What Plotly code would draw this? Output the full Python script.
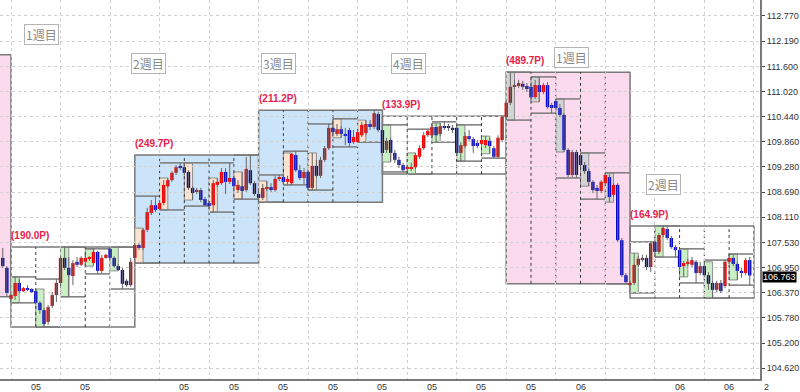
import plotly.graph_objects as go

# ---------------- data (4-hour bars, (open, high, low, close)) ----------------
prev_week_bars = [
    (107.17, 107.40, 106.94, 106.98),
    (106.94, 106.98, 106.27, 106.36),
]
prev_week_range = (111.87, 106.27)   # high, low of the week before week 1

week1 = [
    (106.22, 106.34, 106.13, 106.31), (106.29, 106.73, 106.20, 106.59), (106.59, 106.68, 106.36, 106.40),
    (106.40, 106.50, 106.38, 106.47), (106.47, 106.54, 106.40, 106.43), (106.45, 106.47, 106.36, 106.38),
    (106.40, 106.45, 106.10, 106.13), (106.13, 106.17, 105.87, 105.96), (105.96, 106.01, 105.57, 105.64),
    (105.69, 106.08, 105.62, 106.03), (106.06, 106.38, 106.01, 106.31), (106.31, 106.68, 106.15, 106.59),
    (106.59, 107.21, 106.52, 107.17), (107.17, 107.42, 106.89, 106.94), (106.94, 107.19, 106.27, 106.77),
    (106.75, 107.12, 106.54, 107.05), (107.08, 107.19, 106.96, 107.01), (107.01, 107.21, 106.98, 107.17),
    (107.08, 107.24, 106.98, 107.17), (107.15, 107.21, 107.10, 107.17), (107.05, 107.38, 107.01, 107.31),
    (107.31, 107.33, 106.80, 106.87), (106.87, 107.24, 106.82, 107.17), (107.17, 107.26, 107.15, 107.24),
    (107.38, 107.42, 107.12, 107.17), (107.17, 107.21, 106.94, 106.98), (106.98, 107.03, 106.87, 106.89),
    (106.89, 106.94, 106.45, 106.57), (106.64, 106.68, 106.50, 106.54), (106.54, 107.17, 106.50, 107.08),
]
week2 = [
    (107.17, 107.51, 107.05, 107.47), (107.47, 107.51, 107.35, 107.40), (107.40, 107.86, 107.35, 107.82),
    (107.82, 108.33, 107.77, 108.23), (108.21, 108.51, 108.16, 108.39), (108.39, 108.60, 108.23, 108.28),
    (108.30, 108.51, 108.28, 108.44), (108.44, 108.97, 108.39, 108.86), (108.83, 109.02, 108.79, 108.97),
    (108.97, 109.18, 108.93, 109.14), (109.14, 109.32, 109.09, 109.27), (109.30, 109.37, 109.20, 109.25),
    (109.27, 109.37, 109.09, 109.14), (109.16, 109.20, 108.74, 108.79), (108.79, 108.83, 108.51, 108.67),
    (108.70, 108.79, 108.65, 108.74), (108.74, 108.79, 108.46, 108.51), (108.53, 108.58, 108.37, 108.39),
    (108.44, 108.49, 108.33, 108.37), (108.39, 108.97, 108.23, 108.90), (108.86, 109.02, 108.81, 108.93),
    (108.90, 109.25, 108.86, 109.16), (109.16, 109.25, 108.65, 108.93), (108.93, 109.37, 108.88, 109.02),
    (109.02, 109.07, 108.79, 108.83), (108.74, 108.97, 108.67, 108.86), (108.83, 109.16, 108.53, 108.72),
    (108.74, 109.51, 108.70, 109.23), (109.20, 109.55, 108.86, 108.90), (108.90, 108.95, 108.60, 108.65),
]
week3 = [
    (108.65, 108.79, 108.46, 108.56), (108.56, 108.88, 108.51, 108.79), (108.77, 108.95, 108.72, 108.79),
    (108.81, 108.90, 108.70, 108.74), (108.74, 109.07, 108.70, 109.00), (109.00, 109.09, 108.95, 109.04),
    (109.04, 109.11, 108.88, 108.93), (108.93, 109.07, 108.88, 109.00), (108.90, 109.60, 108.86, 109.58),
    (109.55, 109.64, 109.16, 109.20), (109.20, 109.32, 108.97, 109.02), (109.02, 109.25, 108.88, 109.16),
    (109.16, 109.20, 108.74, 108.79), (108.79, 109.60, 108.74, 109.30), (109.30, 109.44, 109.02, 109.07),
    (109.07, 109.51, 109.02, 109.44), (109.44, 109.76, 109.39, 109.71), (109.71, 110.27, 109.67, 110.18),
    (110.18, 110.39, 110.04, 110.08), (110.04, 110.27, 109.99, 110.15), (110.15, 110.22, 109.95, 110.04),
    (110.04, 110.18, 109.78, 110.01), (110.13, 110.18, 109.74, 109.83), (109.85, 110.13, 109.81, 109.97),
    (109.85, 110.13, 109.85, 110.08), (110.01, 110.32, 109.97, 110.25), (110.06, 110.36, 110.01, 110.27),
    (110.27, 110.36, 110.13, 110.20), (110.20, 110.59, 110.15, 110.52), (110.50, 110.55, 110.08, 110.13),
]
week4 = [
    (110.13, 110.25, 109.53, 109.60), (109.67, 109.95, 109.60, 109.88), (109.90, 109.95, 109.39, 109.60),
    (109.60, 109.67, 109.37, 109.44), (109.44, 109.51, 109.25, 109.32), (109.32, 109.37, 109.16, 109.20),
    (109.23, 109.32, 109.11, 109.27), (109.23, 109.37, 109.18, 109.27), (109.27, 109.60, 109.23, 109.55),
    (109.51, 109.78, 109.46, 109.71), (109.71, 110.08, 109.67, 110.01), (110.01, 110.15, 109.97, 110.11),
    (110.01, 110.25, 109.97, 110.20), (110.20, 110.29, 109.85, 110.01), (110.04, 110.29, 109.99, 110.22),
    (110.22, 110.32, 110.13, 110.20), (110.22, 110.27, 110.11, 110.18), (110.18, 110.25, 110.06, 110.13),
    (110.18, 110.25, 109.55, 109.60), (109.60, 109.85, 109.41, 109.78), (109.76, 110.08, 109.71, 109.99),
    (109.99, 110.13, 109.88, 109.92), (109.92, 109.97, 109.60, 109.76), (109.83, 109.90, 109.71, 109.76),
    (109.81, 109.97, 109.76, 109.90), (109.78, 109.99, 109.71, 109.90), (109.88, 109.95, 109.58, 109.76),
    (109.71, 109.76, 109.48, 109.51), (109.51, 110.01, 109.48, 109.95), (109.90, 110.45, 109.85, 110.43),
]
week5 = [
    (110.43, 110.80, 110.36, 110.76), (110.76, 111.47, 110.71, 111.13), (111.13, 111.29, 111.08, 111.17),
    (111.15, 111.29, 111.10, 111.22), (111.20, 111.27, 111.06, 111.13), (111.15, 111.22, 111.01, 111.08),
    (111.13, 111.17, 110.82, 110.89), (110.89, 111.29, 110.85, 111.17), (111.17, 111.36, 110.78, 111.01),
    (111.01, 111.22, 110.96, 111.17), (111.17, 111.24, 110.62, 110.66), (110.71, 110.76, 110.52, 110.64),
    (110.80, 110.85, 110.59, 110.64), (110.64, 110.73, 110.43, 110.48), (110.48, 110.52, 109.62, 109.67),
    (109.67, 109.71, 109.04, 109.09), (109.09, 109.67, 109.04, 109.62), (109.62, 109.67, 109.02, 109.09),
    (109.55, 109.60, 109.27, 109.32), (109.32, 109.39, 109.11, 109.18), (109.18, 109.23, 108.83, 108.93),
    (108.93, 108.97, 108.67, 108.74), (108.79, 108.86, 108.53, 108.72), (108.72, 108.97, 108.67, 108.93),
    (108.90, 109.14, 108.86, 109.09), (109.04, 109.11, 108.46, 108.58), (108.63, 108.90, 108.58, 108.86),
    (108.86, 108.90, 107.54, 107.58), (107.58, 107.63, 106.73, 106.77), (106.77, 106.82, 106.57, 106.61),
]
week6 = [
    (106.54, 106.64, 106.36, 106.59), (106.59, 107.28, 106.54, 107.01), (107.01, 107.21, 106.96, 107.15),
    (107.12, 107.24, 107.08, 107.17), (107.17, 107.24, 106.89, 106.96), (106.96, 107.54, 106.84, 107.51),
    (107.54, 107.58, 107.19, 107.31), (107.31, 107.75, 107.26, 107.70), (107.70, 107.91, 107.65, 107.86),
    (107.84, 107.89, 107.58, 107.63), (107.63, 107.68, 107.38, 107.42), (107.42, 107.47, 107.19, 107.35),
    (107.35, 107.38, 106.89, 106.96), (106.98, 107.10, 106.73, 107.05), (107.03, 107.15, 106.98, 107.08),
    (107.01, 107.19, 106.96, 107.12), (107.08, 107.12, 106.59, 106.82), (106.82, 107.08, 106.77, 106.98),
    (106.98, 107.08, 106.73, 106.77), (106.77, 106.84, 106.43, 106.57), (106.59, 106.64, 106.24, 106.43),
    (106.43, 106.64, 106.38, 106.59), (106.59, 106.66, 106.36, 106.40), (106.52, 107.12, 106.47, 107.08),
    (107.08, 107.26, 107.03, 107.17), (107.17, 107.24, 106.98, 107.03), (107.03, 107.08, 106.66, 106.87),
    (106.87, 106.94, 106.71, 106.82), (106.82, 107.17, 106.77, 107.12), (107.12, 107.19, 106.54, 106.763),
]
weeks = [week1, week2, week3, week4, week5, week6]

week_pips = ["(190.0P)", "(249.7P)", "(211.2P)", "(133.9P)", "(489.7P)", "(164.9P)"]
week_names = ["1週目", "2週目", "3週目", "4週目", "1週目", "2週目"]
week_name_x = [7.3, 33.2, 64.9, 96.2, 135.9, 158.0]
week_name_y = [112.33, 111.66, 111.66, 111.66, 111.80, 108.88]

x_tick_bars = [6, 18, 42, 54, 66, 78, 90, 102, 114, 126, 138, 162, 174]
x_tick_text = ["05", "05", "05", "05", "05", "05", "05", "05", "05", "05", "06", "06", "06"]
y_ticks = [104.620, 105.200, 105.780, 106.370, 106.950, 107.530, 108.110, 108.690,
           109.280, 109.860, 110.440, 111.020, 111.600, 112.190, 112.770]
last_price = 106.763
corner_label = "2"

# ---------------- styles ----------------
week_theme = ["plain", "blue", "blue", "plain", "pink", "plain"]
week_fill = {"plain": "rgba(0,0,0,0)", "blue": "#cce4fa", "pink": "#fbdaee"}
session_fill = {"plain": "#c8f0c2", "blue": "#fbe3cf", "pink": "#d3d3d3"}
UP, DOWN, WICK = "#f00000", "#0808cc", "#666666"
BOX_LINE = "#7a7a7a"
BARS_PER_DAY, DAYS = 6, 5
TICK_FONT = dict(family="Liberation Sans, Arial", size=9, color="#333")

# ---------------- build ----------------
all_bars = prev_week_bars + [b for w in weeks for b in w]
idx = list(range(-len(prev_week_bars), len(all_bars) - len(prev_week_bars)))
opens = [b[0] for b in all_bars]
highs = [b[1] for b in all_bars]
lows = [b[2] for b in all_bars]
closes = [b[3] for b in all_bars]

fig = go.Figure()

wx, wy = [], []
for i, h, l in zip(idx, highs, lows):
    wx += [i, i, None]
    wy += [l, h, None]
fig.add_trace(go.Scatter(x=wx, y=wy, mode="lines", line=dict(color=WICK, width=1),
                         hoverinfo="skip", showlegend=False))

body_base = [min(o, c) for o, c in zip(opens, closes)]
body_h = [max(abs(c - o), 0.012) for o, c in zip(opens, closes)]
body_col = [UP if c >= o else DOWN for o, c in zip(opens, closes)]
fig.add_trace(go.Bar(x=idx, y=body_h, base=body_base, width=0.82,
                     marker=dict(color=body_col, line=dict(width=0)),
                     hoverinfo="skip", showlegend=False))

shapes = []
# previous week box
shapes.append(dict(type="rect", xref="x", yref="y", x0=-12, x1=0,
                   y0=prev_week_range[1], y1=prev_week_range[0],
                   fillcolor=week_fill["pink"], line=dict(color=BOX_LINE, width=1.5), layer="below"))

annotations = []
for w, wk in enumerate(weeks):
    s = w * BARS_PER_DAY * DAYS
    e = s + BARS_PER_DAY * DAYS
    hi = max(b[1] for b in wk)
    lo = min(b[2] for b in wk)
    theme = week_theme[w]
    shapes.append(dict(type="rect", xref="x", yref="y", x0=s, x1=e, y0=lo, y1=hi,
                       fillcolor=week_fill[theme], line=dict(color=BOX_LINE, width=1.5), layer="below"))
    for d in range(DAYS):
        ds = d * BARS_PER_DAY
        day = wk[ds:ds + BARS_PER_DAY]
        if not day:
            continue
        dh = max(b[1] for b in day)
        dl = min(b[2] for b in day)
        x0, x1 = s + ds, s + ds + BARS_PER_DAY
        # first-8h range box
        first = wk[ds:ds + 3]
        shapes.append(dict(type="rect", xref="x", yref="y", x0=x0, x1=x0 + 2,
                           y0=min(b[2] for b in first), y1=max(b[1] for b in first),
                           fillcolor=session_fill[theme], line=dict(color="#8e8e8e", width=1),
                           layer="below"))
        for yv in (dh, dl):
            shapes.append(dict(type="line", xref="x", yref="y", x0=x0, x1=x1, y0=yv, y1=yv,
                               line=dict(color=BOX_LINE, width=1.5), layer="below"))
        if d > 0:
            shapes.append(dict(type="line", xref="x", yref="y", x0=x0, x1=x0, y0=lo, y1=hi,
                               line=dict(color="#3a3a3a", width=1, dash="dot"), layer="below"))
    annotations.append(dict(x=s, y=hi, xref="x", yref="y", text=week_pips[w], showarrow=False,
                            xanchor="left", yanchor="bottom", xshift=-2, yshift=4,
                            font=dict(family="Liberation Sans, Arial", size=10, color="#e8214c",
                                      weight="bold")))
    annotations.append(dict(x=week_name_x[w], y=week_name_y[w], xref="x", yref="y",
                            text=week_names[w], showarrow=False,
                            bgcolor="white", bordercolor="#b4b4b4", borderwidth=1, borderpad=1,
                            font=dict(family="Noto Sans CJK JP", size=12, color="#8a8a8a")))

# x-axis date labels (placed just under the axis line)
for xb, tt in zip(x_tick_bars, x_tick_text):
    annotations.append(dict(x=xb, y=0, xref="x", yref="paper", text=tt, showarrow=False,
                            yanchor="top", yshift=-1, font=TICK_FONT))

annotations.append(dict(x=1, y=last_price, xref="paper", yref="y", text=f"{last_price:.3f}",
                        showarrow=False, xanchor="left", xshift=2, yshift=-2,
                        bgcolor="black", borderpad=0,
                        font=dict(family="Liberation Sans, Arial", size=9, color="white")))
annotations.append(dict(x=1, y=0, xref="paper", yref="paper", text=corner_label, showarrow=False,
                        xanchor="left", yanchor="top", xshift=2, yshift=-1, font=TICK_FONT))

bar_px = 4.127
x_left = -11 / bar_px
x_right = (760 - 11) / bar_px
y_top = 113.14
y_bottom = 113.14 - 379 * 0.023148

fig.update_layout(
    width=800, height=392,
    margin=dict(l=0, r=40, t=0, b=13),
    paper_bgcolor="white", plot_bgcolor="white",
    shapes=shapes, annotations=annotations,
    showlegend=False, barmode="overlay",
    font=dict(family="Liberation Sans, Arial", size=9, color="#222"),
    xaxis=dict(range=[x_left, x_right], tickmode="array", tickvals=x_tick_bars,
               showticklabels=False, showgrid=False, zeroline=False,
               showline=True, linecolor="#7a7a7a", linewidth=2, ticks="",
               automargin=False, fixedrange=True,
               minor=dict(tick0=0, dtick=12, showgrid=True, gridcolor="#d2d2d2",
                          griddash="dot", gridwidth=1, ticks="")),
    yaxis=dict(range=[y_bottom, y_top], side="right", tickmode="array", tickvals=y_ticks,
               ticktext=[f"{v:.3f}" for v in y_ticks], showgrid=True, gridcolor="#d2d2d2",
               griddash="dot", zeroline=False, showline=True, linecolor="#7a7a7a", linewidth=2,
               ticks="outside", ticklen=3, tickcolor="#444", tickfont=TICK_FONT,
               automargin=False, fixedrange=True),
)

fig.write_html("out.html", config={"displayModeBar": False},
               post_script="document.body.style.margin='0';document.body.style.overflow='hidden';")
